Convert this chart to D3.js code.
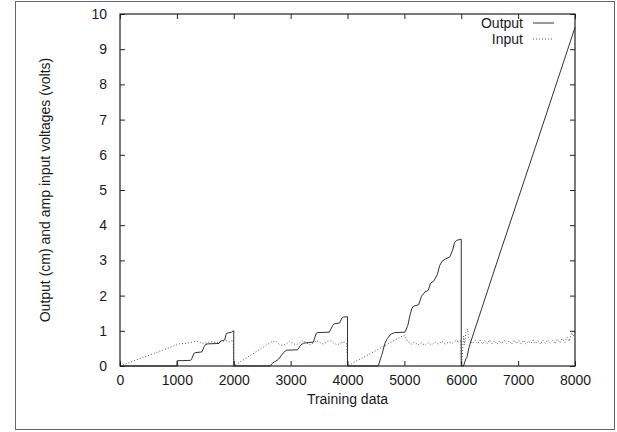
<!DOCTYPE html>
<html>
<head>
<meta charset="utf-8">
<script src="https://cdn.jsdelivr.net/npm/d3@7/dist/d3.min.js"></script>
<style>
  html, body { margin: 0; padding: 0; background: #fff; }
  svg { display: block; }
  text { font-family: "Liberation Sans", Arial, Helvetica, sans-serif; fill: #1a1a1a; }
</style>
</head>
<body>
<svg id="chart" width="617" height="432"></svg>
<script>
// Tick values for both axes
const xTicks = [0, 1000, 2000, 3000, 4000, 5000, 6000, 7000, 8000];
const yTicks = [0, 1, 2, 3, 4, 5, 6, 7, 8, 9, 10];

// Output position (cm) over the training run, [sample, value]
const outputSeries = [
  [0, 0], [1000, 0], [1005, 0.15], [1240, 0.16], [1260, 0.2], [1300, 0.36], [1330, 0.38],
  [1440, 0.4], [1480, 0.55], [1510, 0.62], [1560, 0.63], [1740, 0.64], [1760, 0.7],
  [1800, 0.72], [1840, 0.74], [1870, 0.92], [1900, 0.94], [1960, 0.96], [1990, 1.0],
  [2000, 1.0], [2000, 0],
  [2640, 0], [2680, 0.08], [2720, 0.12], [2780, 0.18], [2840, 0.31], [2900, 0.42],
  [2930, 0.45], [3120, 0.46], [3180, 0.6], [3230, 0.65], [3400, 0.68], [3450, 0.93],
  [3480, 0.95], [3680, 0.96], [3740, 1.15], [3770, 1.2], [3860, 1.22], [3900, 1.36],
  [3930, 1.39], [3995, 1.4], [4000, 1.4], [4000, 0],
  [4540, 0], [4600, 0.3], [4660, 0.65], [4700, 0.78], [4760, 0.9], [4830, 0.95],
  [5010, 0.96], [5060, 1.15], [5100, 1.45], [5130, 1.63], [5160, 1.7], [5250, 1.74],
  [5300, 1.98], [5360, 2.1], [5420, 2.15], [5460, 2.35], [5520, 2.42], [5580, 2.6],
  [5620, 2.85], [5660, 2.97], [5720, 3.04], [5800, 3.1], [5850, 3.3], [5880, 3.5],
  [5920, 3.57], [5995, 3.6], [6000, 3.6], [6000, 0],
  [6040, 0], [6080, 0.2], [6100, 0.25], [6140, 0.55], [6200, 0.85], [6700, 3.3],
  [7300, 6.2], [8000, 9.62]
];

// Amplifier input voltage (volts), [sample, value]
const inputSeries = [
  [0, 0], [1050, 0.63], [1150, 0.64], [1250, 0.67], [1330, 0.7], [1400, 0.68],
  [1470, 0.64], [1540, 0.67], [1620, 0.69], [1700, 0.66], [1780, 0.7], [1860, 0.72],
  [1930, 0.68], [1990, 0.74], [2000, 0],
  [2680, 0.7], [2740, 0.7], [2800, 0.62], [2860, 0.58], [2920, 0.62], [2980, 0.7],
  [3040, 0.64], [3100, 0.6], [3160, 0.66], [3220, 0.72], [3280, 0.66], [3340, 0.6],
  [3400, 0.66], [3460, 0.72], [3520, 0.66], [3580, 0.62], [3640, 0.7], [3700, 0.72],
  [3760, 0.65], [3820, 0.6], [3880, 0.66], [3940, 0.68], [3990, 0.62], [4000, 0],
  [5000, 0.88], [5060, 0.7], [5120, 0.62], [5180, 0.68], [5240, 0.6], [5300, 0.66],
  [5360, 0.58], [5420, 0.66], [5480, 0.6], [5540, 0.68], [5600, 0.62], [5660, 0.7],
  [5720, 0.62], [5780, 0.68], [5840, 0.64], [5900, 0.72], [5960, 0.68], [5990, 0.74],
  [6000, 0.05], [6020, 0.3], [6040, 0.85], [6060, 0.6], [6080, 0.95], [6110, 1.05],
  [6130, 0.8], [6160, 0.72], [6200, 0.64], [6245, 0.74], [6290, 0.63], [6330, 0.73],
  [6375, 0.62], [6415, 0.72], [6460, 0.64], [6500, 0.74], [6545, 0.63], [6585, 0.72],
  [6630, 0.62], [6670, 0.71], [6715, 0.63], [6755, 0.73], [6800, 0.64], [6840, 0.72],
  [6885, 0.62], [6925, 0.73], [6970, 0.64], [7010, 0.72], [7055, 0.63], [7095, 0.73],
  [7140, 0.62], [7180, 0.71], [7225, 0.64], [7265, 0.74], [7310, 0.63], [7350, 0.72],
  [7395, 0.62], [7435, 0.73], [7480, 0.64], [7520, 0.74], [7565, 0.65], [7605, 0.73],
  [7650, 0.63], [7690, 0.76], [7735, 0.66], [7775, 0.78], [7820, 0.67], [7860, 0.82],
  [7900, 0.7], [7940, 0.95], [7970, 0.85], [8000, 1.0]
];

const seriesNames = ["Output", "Input"];

const svg = d3.select("#chart");
const plot = { left: 120, right: 575, top: 14, bottom: 366 };

const x = d3.scaleLinear().domain([0, 8000]).range([plot.left, plot.right]);
const y = d3.scaleLinear().domain([0, 10]).range([plot.bottom, plot.top]);

// Outer figure frame
svg.append("rect")
  .attr("x", 15.5).attr("y", 1.5).attr("width", 599).attr("height", 428)
  .attr("fill", "none").attr("stroke", "#666").attr("stroke-width", 1);

const line = d3.line().x(d => x(d[0])).y(d => y(d[1]));

const g = svg.append("g");

// Data lines
g.append("path").datum(inputSeries)
  .attr("d", line).attr("fill", "none")
  .attr("stroke", "#555").attr("stroke-width", 1)
  .attr("stroke-dasharray", "1,2");

g.append("path").datum(outputSeries)
  .attr("d", line).attr("fill", "none")
  .attr("stroke", "#333").attr("stroke-width", 1);

// Axes: ticks drawn inward on all four sides
const tickLen = 5;
const axisStyle = sel => {
  sel.select(".domain").remove();
  sel.selectAll(".tick line").attr("stroke", "#222").attr("stroke-width", 1);
  sel.selectAll(".tick text").style("font-size", "14px");
};

svg.append("g").attr("transform", `translate(0,${plot.bottom})`)
  .call(d3.axisBottom(x).tickValues(xTicks).tickFormat(d3.format("d"))
    .tickSizeInner(-tickLen).tickSizeOuter(0).tickPadding(9))
  .call(axisStyle);

svg.append("g").attr("transform", `translate(0,${plot.top})`)
  .call(d3.axisTop(x).tickValues(xTicks).tickFormat("")
    .tickSizeInner(-tickLen).tickSizeOuter(0))
  .call(axisStyle);

svg.append("g").attr("transform", `translate(${plot.left},0)`)
  .call(d3.axisLeft(y).tickValues(yTicks).tickFormat(d3.format("d"))
    .tickSizeInner(-tickLen).tickSizeOuter(0).tickPadding(13))
  .call(axisStyle);

svg.append("g").attr("transform", `translate(${plot.right},0)`)
  .call(d3.axisRight(y).tickValues(yTicks).tickFormat("")
    .tickSizeInner(-tickLen).tickSizeOuter(0))
  .call(axisStyle);

// Plot border
svg.append("rect")
  .attr("x", plot.left).attr("y", plot.top)
  .attr("width", plot.right - plot.left).attr("height", plot.bottom - plot.top)
  .attr("fill", "none").attr("stroke", "#222").attr("stroke-width", 1.2);

// Axis titles
svg.append("text")
  .attr("x", (plot.left + plot.right) / 2).attr("y", 404)
  .attr("text-anchor", "middle").style("font-size", "14px")
  .text("Training data");

svg.append("text")
  .attr("transform", `translate(50,${(plot.top + plot.bottom) / 2}) rotate(-90)`)
  .attr("text-anchor", "middle").style("font-size", "14px")
  .text("Output (cm) and amp input voltages (volts)");

// Legend
const legend = svg.append("g");
const legendRows = [
  { name: seriesNames[0], dash: null, color: "#333", cy: 23 },
  { name: seriesNames[1], dash: "1,2", color: "#555", cy: 39 }
];
legendRows.forEach(r => {
  legend.append("text")
    .attr("x", 523).attr("y", r.cy).attr("dy", "0.35em")
    .attr("text-anchor", "end").style("font-size", "14px")
    .text(r.name);
  legend.append("line")
    .attr("x1", 533).attr("x2", 554).attr("y1", r.cy).attr("y2", r.cy)
    .attr("stroke", r.color).attr("stroke-width", 1)
    .attr("stroke-dasharray", r.dash);
});
</script>
</body>
</html>
